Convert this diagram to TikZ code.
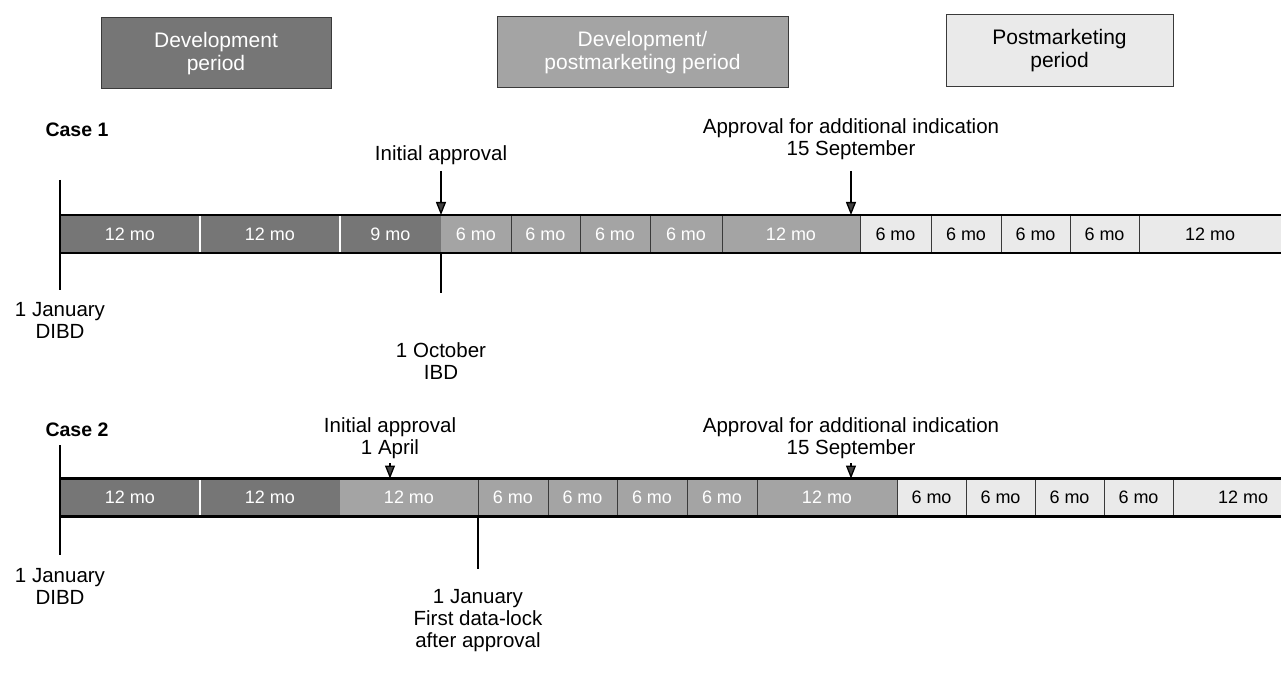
\documentclass[tikz,border=0pt]{standalone}
\usepackage{fontspec}
\setmainfont{Liberation Sans}
\usetikzlibrary{arrows.meta}
\definecolor{devc}{HTML}{767676}
\definecolor{midc}{HTML}{A4A4A4}
\definecolor{postc}{HTML}{EAEAEA}
\definecolor{edgec}{HTML}{3A3A3A}
\begin{document}
\begin{tikzpicture}[x=1pt,y=-1pt,
  seg/.style={minimum height=38pt, inner sep=0pt, outer sep=0pt, font=\fontsize{18}{20}\selectfont},
  dev/.style={seg, fill=devc, text=white},
  mid/.style={seg, fill=midc, text=white},
  post/.style={seg, fill=postc, text=black},
  lbl/.style={align=center, font=\fontsize{20.5}{22}\selectfont, inner sep=0pt},
  casel/.style={font=\bfseries\fontsize{19.5}{22}\selectfont, inner sep=0pt},
  legbox/.style={draw=edgec, line width=1pt, align=center, inner sep=0pt, font=\fontsize{21}{23}\selectfont},
  marker/.style={line width=1.5pt, black},
  arr/.style={line width=1.3pt, -{Triangle[length=13pt,width=10pt,fill=darkgray]}},
  wdiv/.style={white, line width=2pt},
  ddiv/.style={edgec, line width=1pt},
  rim/.style={black, line width=2.2pt}
]
\useasboundingbox (0,0) rectangle (1281,684);
\fill[white] (0,0) rectangle (1281,684);

% legend
\node[legbox, fill=devc, text=white, minimum width=230pt, minimum height=71pt] (L1) at (216,53.5) {Development\\period};
\node[legbox, fill=midc, text=white, minimum width=291pt, minimum height=71pt] (L2) at (642.5,52.5) {Development/\\postmarketing period};
\node[legbox, fill=postc, text=black, minimum width=227pt, minimum height=72pt] (L3) at (1059.5,51) {Postmarketing\\period};

% ---------------- Case 1 ----------------
\node[casel] (case1) at (77,130) {Case 1};
\node[dev, minimum width=140pt] (a1) at (130,234) {12 mo};
\node[dev, minimum width=140pt] (b1) at (270,234) {12 mo};
\node[dev, minimum width=101pt] (c1) at (390.5,234) {9 mo};
\node[mid, minimum width=70pt] (d1) at (476,234) {6 mo};
\node[mid, minimum width=69pt] (e1) at (545.5,234) {6 mo};
\node[mid, minimum width=70pt] (f1) at (615,234) {6 mo};
\node[mid, minimum width=72pt] (g1) at (686,234) {6 mo};
\node[mid, minimum width=138pt] (h1) at (791,234) {12 mo};
\node[post, minimum width=71pt] (i1) at (895.5,234) {6 mo};
\node[post, minimum width=70pt] (j1) at (966,234) {6 mo};
\node[post, minimum width=69pt] (k1) at (1035.5,234) {6 mo};
\node[post, minimum width=69pt] (l1) at (1104.5,234) {6 mo};
\node[post, minimum width=142pt] (m1) at (1210,234) {12 mo};

\draw[wdiv] (a1.north east) -- (a1.south east);
\draw[wdiv] (b1.north east) -- (b1.south east);
\foreach \n in {d1,e1,f1,g1,h1,i1,j1,k1,l1}{\draw[ddiv] (\n.north east) -- (\n.south east);}
\draw[rim] (a1.north west) -- (m1.north east);
\draw[rim] (a1.south west) -- (m1.south east);

\coordinate (s1t) at (60,180);
\coordinate (s1b) at (60,290);
\draw[marker] (s1t) -- (s1b);
\coordinate (o1b) at (441,293);
\draw[marker] (d1.south west) -- (o1b);

\node[lbl] (ia1) at (441,155) {Initial approval};
\coordinate (ia1a) at (441,171);
\draw[arr] (ia1a) -- (d1.north west);
\node[lbl] (ad1) at (851,139) {Approval for additional indication\\15 September};
\coordinate (ad1a) at (851,171);
\draw[arr] (ad1a) -- (ad1a |- h1.north);

\node[lbl] (dibd1) at (60,320.5) {1 January\\DIBD};
\node[lbl] (ibd1) at (441,361) {1 October\\IBD};

% ---------------- Case 2 ----------------
\node[casel] (case2) at (77,430) {Case 2};
\node[dev, minimum width=140pt] (a2) at (130,497.5) {12 mo};
\node[dev, minimum width=140pt] (b2) at (270,497.5) {12 mo};
\node[mid, minimum width=138pt] (c2) at (409,497.5) {12 mo};
\node[mid, minimum width=70pt] (d2) at (513,497.5) {6 mo};
\node[mid, minimum width=69pt] (e2) at (582.5,497.5) {6 mo};
\node[mid, minimum width=70pt] (f2) at (652,497.5) {6 mo};
\node[mid, minimum width=70pt] (g2) at (722,497.5) {6 mo};
\node[mid, minimum width=140pt] (h2) at (827,497.5) {12 mo};
\node[post, minimum width=69pt] (i2) at (931.5,497.5) {6 mo};
\node[post, minimum width=69pt] (j2) at (1000.5,497.5) {6 mo};
\node[post, minimum width=69pt] (k2) at (1069.5,497.5) {6 mo};
\node[post, minimum width=69pt] (l2) at (1138.5,497.5) {6 mo};
\node[post, minimum width=140pt] (m2) at (1243,497.5) {12 mo};

\draw[wdiv] (a2.north east) -- (a2.south east);
\foreach \n in {c2,d2,e2,f2,g2,h2,i2,j2,k2,l2}{\draw[ddiv] (\n.north east) -- (\n.south east);}
\draw[rim] (a2.north west) -- (m2.north east);
\draw[rim] (a2.south west) -- (m2.south east);

\coordinate (s2t) at (60,445);
\coordinate (s2b) at (60,555);
\draw[marker] (s2t) -- (s2b);
\coordinate (o2b) at (478,569);
\draw[marker] (d2.south west) -- (o2b);

\node[lbl] (ia2) at (390,438.5) {Initial approval\\1 April};
\coordinate (ia2a) at (390,463);
\draw[arr] (ia2a) -- (ia2a |- c2.north);
\node[lbl] (ad2) at (851,438.5) {Approval for additional indication\\15 September};
\coordinate (ad2a) at (851,463);
\draw[arr] (ad2a) -- (ad2a |- h2.north);

\node[lbl] (dibd2) at (60,586.5) {1 January\\DIBD};
\node[lbl] (fdl2) at (478,620.5) {1 January\\First data-lock\\after approval};
\end{tikzpicture}
\end{document}
